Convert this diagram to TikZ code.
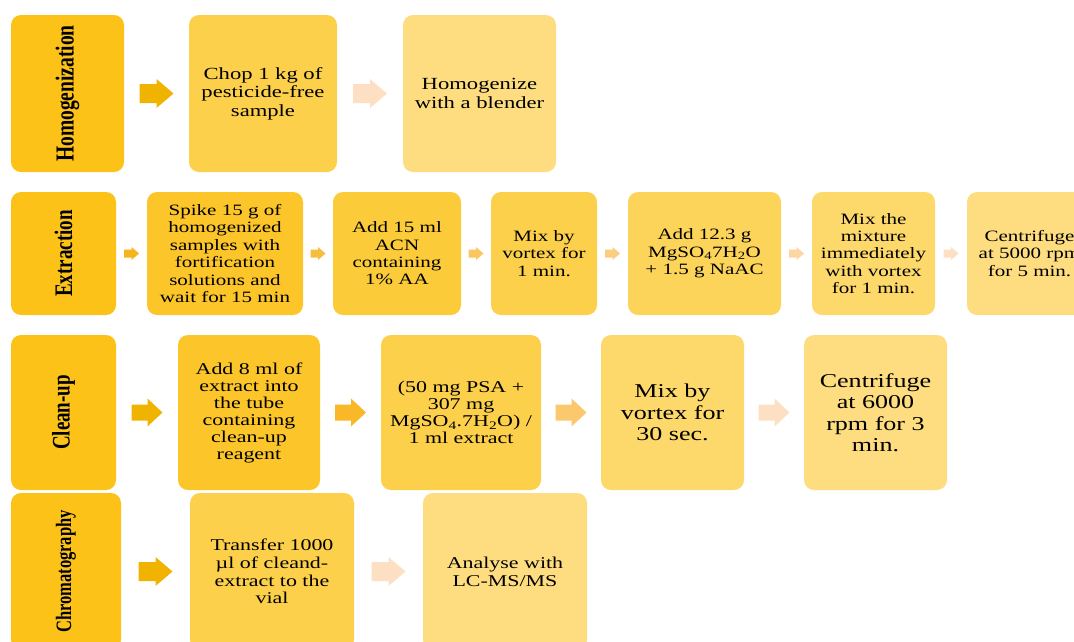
\documentclass[tikz,border=0pt]{standalone}
\usepackage{fontspec}
\usepackage{graphicx}
\setmainfont[FakeStretch=1.33]{Liberation Serif}
\newfontfamily\lblfont{Liberation Serif}
\usetikzlibrary{calc}

\definecolor{lblc}{RGB}{252,194,24}
\definecolor{cA}{RGB}{252,198,42}
\definecolor{cB}{RGB}{252,203,58}
\definecolor{cC}{RGB}{253,208,76}
\definecolor{cD}{RGB}{253,212,90}
\definecolor{cE}{RGB}{253,216,106}
\definecolor{cF}{RGB}{254,221,128}
\definecolor{aDark}{RGB}{240,180,0}
\definecolor{aPale}{RGB}{253,224,196}
\definecolor{r2a}{RGB}{246,180,30}
\definecolor{r2b}{RGB}{247,189,63}
\definecolor{r2c}{RGB}{249,198,96}
\definecolor{r2d}{RGB}{250,206,130}
\definecolor{r2e}{RGB}{252,215,163}
\definecolor{r3b}{RGB}{248,184,40}
\definecolor{r3c}{RGB}{252,200,110}

\tikzset{
  box/.style={rounded corners=10pt, inner sep=0pt, align=center, text=black},
  lbox/.style={box, fill=lblc},
  ltext/.style={rotate=90, inner sep=0pt, text=black},
  fone/.style={font=\fontsize{17}{18.5}\selectfont},
  ftwo/.style={font=\fontsize{15.8}{17.4}\selectfont},
  fthree/.style={font=\fontsize{16.5}{17}\selectfont},
  fbig/.style={font=\fontsize{19.6}{21.5}\selectfont},
  ffour/.style={font=\fontsize{16.5}{17.7}\selectfont},
  pics/bigarr/.style={code={\fill (-17,-9.5) -- (0,-9.5) -- (0,-14.5) -- (17,0) -- (0,14.5) -- (0,9.5) -- (-17,9.5) -- cycle;}},
  pics/midarr/.style={code={\fill (-15.5,-8) -- (0.5,-8) -- (0.5,-14) -- (15.5,0) -- (0.5,14) -- (0.5,8) -- (-15.5,8) -- cycle;}},
  pics/smallarr/.style={code={\fill (-7.5,-4) -- (0,-4) -- (0,-6.5) -- (7.5,0) -- (0,6.5) -- (0,4) -- (-7.5,4) -- cycle;}},
}

\begin{document}
\begin{tikzpicture}[x=1pt,y=-1pt]
\useasboundingbox (0,0) rectangle (1074,641);
\clip (0,0) rectangle (1074,641);
\fill[white] (0,0) rectangle (1074,641);

% Row 1
\node[lbox, minimum width=113, minimum height=157] (L1) at (67.5,93.5) {};
\node[ltext, font=\lblfont\bfseries\fontsize{19.5}{22}\selectfont] at (L1) {\scalebox{1}[1.33]{Homogenization}};
\node[box, fill=cC, fone, minimum width=148, minimum height=157] (B11) at (263,93.5) {Chop 1 kg of\\pesticide-free\\sample};
\node[box, fill=cF, fone, minimum width=153, minimum height=157] (B12) at (479.5,93.5) {Homogenize\\with a blender};
\pic[fill=aDark] at ($(L1.east)!0.5!(B11.west)$) {bigarr};
\pic[fill=aPale] at ($(B11.east)!0.5!(B12.west)$) {bigarr};

% Row 2
\node[lbox, minimum width=105, minimum height=123] (L2) at (63.5,253.5) {};
\node[ltext, font=\lblfont\bfseries\fontsize{19}{22}\selectfont] at (L2) {\scalebox{1}[1.33]{Extraction}};
\node[box, fill=cA, ftwo, minimum width=156, minimum height=123] (B21) at (225,253.5) {Spike 15 g of\\homogenized\\samples with\\fortification\\solutions and\\wait for 15 min};
\node[box, fill=cB, ftwo, minimum width=128, minimum height=123] (B22) at (397,253.5) {Add 15 ml\\ACN\\containing\\1\% AA};
\node[box, fill=cC, ftwo, minimum width=106, minimum height=123] (B23) at (544,253.5) {Mix by\\vortex for\\1 min.};
\node[box, fill=cD, ftwo, minimum width=153, minimum height=123] (B24) at (704.5,253.5) {Add 12.3 g\\MgSO\textsubscript{4}7H\textsubscript{2}O\\+ 1.5 g NaAC};
\node[box, fill=cE, ftwo, minimum width=123, minimum height=123] (B25) at (873.5,253.5) {Mix the\\mixture\\immediately\\with vortex\\for 1 min.};
\node[box, fill=cF, ftwo, minimum width=125, minimum height=123] (B26) at (1029.5,253.5) {Centrifuge\\at 5000 rpm\\for 5 min.};
\pic[fill=r2a] at ($(L2.east)!0.5!(B21.west)$) {smallarr};
\pic[fill=r2b] at ($(B21.east)!0.5!(B22.west)$) {smallarr};
\pic[fill=r2c] at ($(B22.east)!0.5!(B23.west)$) {smallarr};
\pic[fill=r2d] at ($(B23.east)!0.5!(B24.west)$) {smallarr};
\pic[fill=r2e] at ($(B24.east)!0.5!(B25.west)$) {smallarr};
\pic[fill=aPale] at ($(B25.east)!0.5!(B26.west)$) {smallarr};

% Row 3
\node[lbox, minimum width=105, minimum height=155] (L3) at (63.5,412.5) {};
\node[ltext, font=\lblfont\bfseries\fontsize{19}{22}\selectfont] at (L3) {\scalebox{1}[1.33]{Clean-up}};
\node[box, fill=cA, fthree, minimum width=142, minimum height=155] (B31) at (249,412.5) {Add 8 ml of\\extract into\\the tube\\containing\\clean-up\\reagent};
\node[box, fill=cC, fthree, minimum width=160, minimum height=155] (B32) at (461,412.5) {(50 mg PSA +\\307 mg\\MgSO\textsubscript{4}.7H\textsubscript{2}O) /\\1 ml extract};
\node[box, fill=cE, fbig, minimum width=143, minimum height=155] (B33) at (672.5,412.5) {Mix by\\vortex for\\30 sec.};
\node[box, fill=cF, fbig, minimum width=143, minimum height=155] (B34) at (875.5,412.5) {Centrifuge\\at 6000\\rpm for 3\\min.};
\pic[fill=aDark] at ($(L3.east)!0.5!(B31.west)$) {midarr};
\pic[fill=r3b] at ($(B31.east)!0.5!(B32.west)$) {midarr};
\pic[fill=r3c] at ($(B32.east)!0.5!(B33.west)$) {midarr};
\pic[fill=aPale] at ($(B33.east)!0.5!(B34.west)$) {midarr};

% Row 4
\node[lbox, minimum width=110, minimum height=157] (L4) at (66,571.5) {};
\node[ltext, font=\lblfont\bfseries\fontsize{16.5}{20}\selectfont] at (L4) {\scalebox{1}[1.33]{Chromatography}};
\node[box, fill=cC, ffour, minimum width=164, minimum height=157] (B41) at (272,571.5) {Transfer 1000\\µl of cleand-\\extract to the\\vial};
\node[box, fill=cF, ffour, minimum width=164, minimum height=157] (B42) at (505,571.5) {Analyse with\\LC-MS/MS};
\pic[fill=aDark] at ($(L4.east)!0.5!(B41.west)$) {bigarr};
\pic[fill=aPale] at ($(B41.east)!0.5!(B42.west)$) {bigarr};
\end{tikzpicture}
\end{document}
